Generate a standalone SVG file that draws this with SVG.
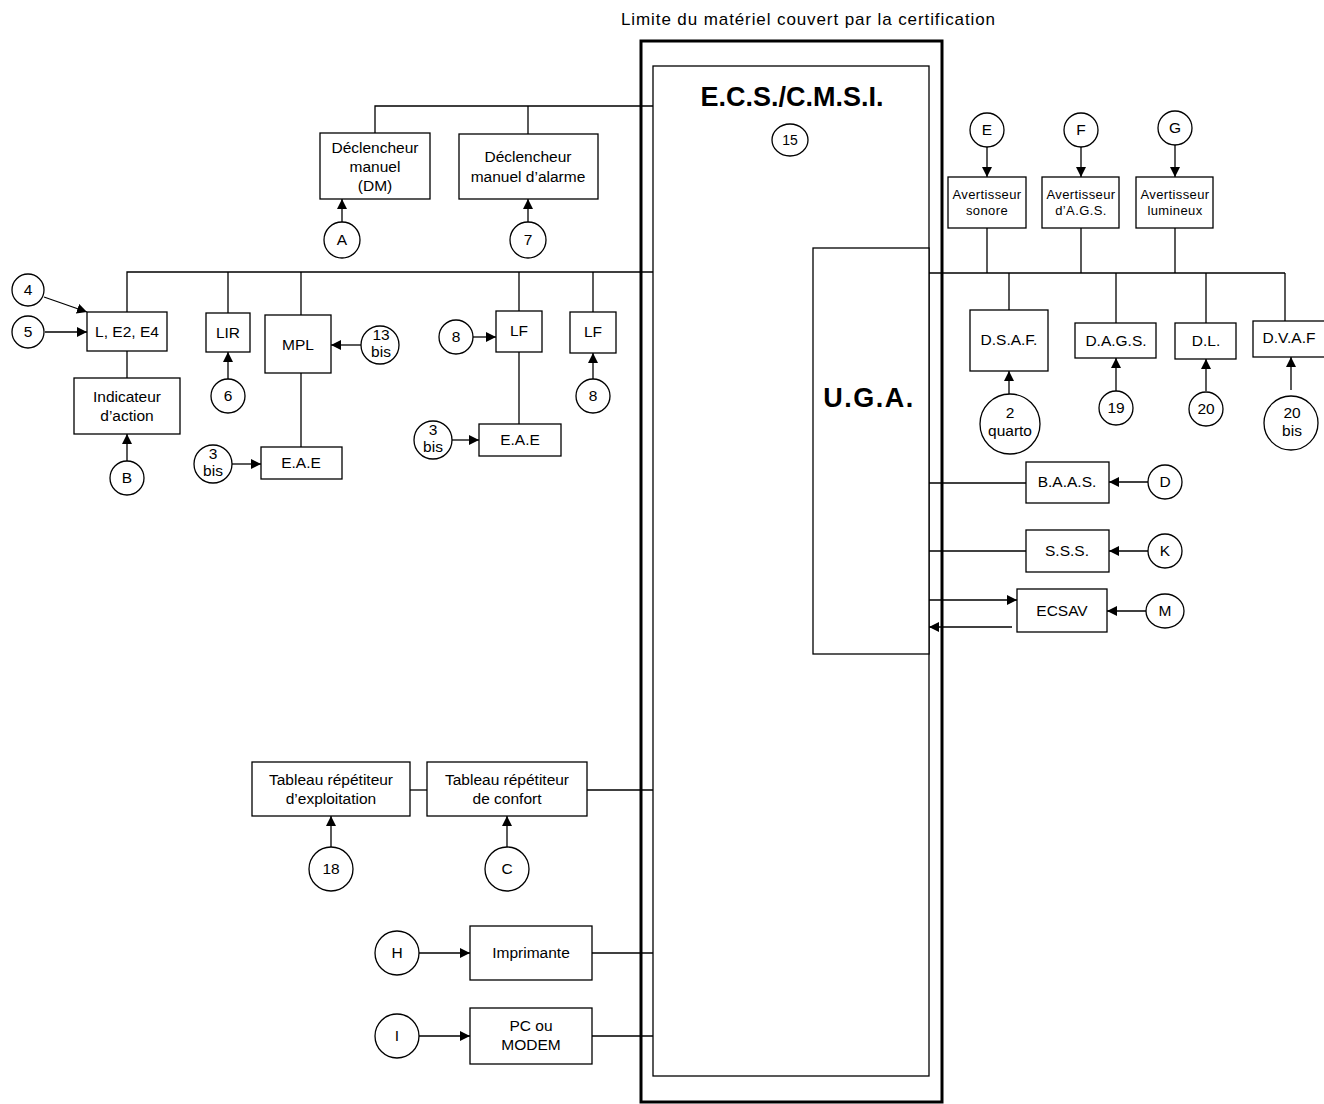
<svg xmlns="http://www.w3.org/2000/svg" width="1324" height="1104" viewBox="0 0 1324 1104">
<defs>
<marker id="ah" viewBox="0 0 10 10" refX="10" refY="5" markerWidth="10" markerHeight="10" markerUnits="userSpaceOnUse" orient="auto">
<path d="M0,0 L10,5 L0,10 z" fill="#000"/>
</marker>
<style>
rect,circle,ellipse{fill:#fff;stroke:#000;stroke-width:1.3}
line,polyline{stroke:#000;stroke-width:1.3;fill:none}
.a{marker-end:url(#ah)}
text{font-family:"Liberation Sans",Arial,sans-serif;font-size:15.5px;fill:#000;text-anchor:middle}
.s{font-size:13px;letter-spacing:0.4px}
.c{font-size:14px}
.b{font-weight:bold}
</style>
</defs>
<rect width="1324" height="1104" style="fill:#fff;stroke:none"/>
<text x="808" y="25" textLength="374" lengthAdjust="spacing" style="font-size:17px">Limite du matériel couvert par la certification</text>

<g id="connectors">
<polyline points="375,133 375,106 653,106"/>
<line x1="528" y1="106" x2="528" y2="134"/>
<line x1="342" y1="222" x2="342" y2="199" class="a"/>
<line x1="528" y1="222" x2="528" y2="199" class="a"/>
<polyline points="127,312 127,272 653,272"/>
<line x1="228" y1="272" x2="228" y2="313"/>
<line x1="301" y1="272" x2="301" y2="315"/>
<line x1="519" y1="272" x2="519" y2="311"/>
<line x1="593" y1="272" x2="593" y2="312"/>
<line x1="44" y1="297" x2="87" y2="312" class="a"/>
<line x1="45" y1="332" x2="87" y2="332" class="a"/>
<line x1="127" y1="351" x2="127" y2="378"/>
<line x1="127" y1="461" x2="127" y2="434" class="a"/>
<line x1="228" y1="379" x2="228" y2="352" class="a"/>
<line x1="361" y1="345" x2="331" y2="345" class="a"/>
<line x1="301" y1="373" x2="301" y2="447"/>
<line x1="232" y1="464" x2="261" y2="464" class="a"/>
<line x1="473" y1="337" x2="496" y2="337" class="a"/>
<line x1="519" y1="352" x2="519" y2="424"/>
<line x1="452" y1="440" x2="479" y2="440" class="a"/>
<line x1="593" y1="379" x2="593" y2="353" class="a"/>
<line x1="929" y1="273" x2="1285" y2="273"/>
<line x1="987" y1="147" x2="987" y2="177" class="a"/>
<line x1="1081" y1="147" x2="1081" y2="177" class="a"/>
<line x1="1175" y1="145" x2="1175" y2="177" class="a"/>
<line x1="987" y1="228" x2="987" y2="273"/>
<line x1="1081" y1="228" x2="1081" y2="273"/>
<line x1="1175" y1="228" x2="1175" y2="273"/>
<line x1="1009" y1="273" x2="1009" y2="310"/>
<line x1="1116" y1="273" x2="1116" y2="323"/>
<line x1="1206" y1="273" x2="1206" y2="323"/>
<line x1="1285" y1="273" x2="1285" y2="321"/>
<line x1="1009" y1="394" x2="1009" y2="371" class="a"/>
<line x1="1116" y1="391" x2="1116" y2="358" class="a"/>
<line x1="1206" y1="391" x2="1206" y2="359" class="a"/>
<line x1="1291" y1="390" x2="1291" y2="357" class="a"/>
<line x1="929" y1="483" x2="1026" y2="483"/>
<line x1="1148" y1="482" x2="1109" y2="482" class="a"/>
<line x1="929" y1="551" x2="1026" y2="551"/>
<line x1="1148" y1="551" x2="1109" y2="551" class="a"/>
<line x1="929" y1="600" x2="1017" y2="600" class="a"/>
<line x1="1012" y1="627" x2="929" y2="627" class="a"/>
<line x1="1146" y1="611" x2="1107" y2="611" class="a"/>
<line x1="410" y1="790" x2="427" y2="790"/>
<line x1="587" y1="790" x2="653" y2="790"/>
<line x1="331" y1="847" x2="331" y2="816" class="a"/>
<line x1="507" y1="847" x2="507" y2="816" class="a"/>
<line x1="419" y1="953" x2="470" y2="953" class="a"/>
<line x1="592" y1="953" x2="653" y2="953"/>
<line x1="419" y1="1036" x2="470" y2="1036" class="a"/>
<line x1="592" y1="1036" x2="653" y2="1036"/>
</g>

<g id="outer"><rect x="641" y="41" width="301" height="1061" style="fill:none;stroke-width:3"/></g>
<g id="ecs"><rect x="653" y="66" width="276" height="1010" style="fill:none"/>
<text x="792" y="106" class="b" style="font-size:27px">E.C.S./C.M.S.I.</text>
<ellipse cx="790" cy="140" rx="18" ry="16"/><text x="790" y="145" class="c">15</text></g>
<g id="uga"><rect x="813" y="248" width="116" height="406"/><text x="869" y="407" class="b" style="font-size:27px;letter-spacing:1.5px">U.G.A.</text></g>

<g id="dm"><rect x="320" y="133" width="110" height="66"/><text x="375" y="153">Déclencheur</text><text x="375" y="172">manuel</text><text x="375" y="191">(DM)</text></g>
<g id="dma"><rect x="459" y="134" width="139" height="65"/><text x="528" y="162">Déclencheur</text><text x="528" y="182">manuel d’alarme</text></g>
<g id="cA"><circle cx="342" cy="240" r="18"/><text x="342" y="245">A</text></g>
<g id="c7"><circle cx="528" cy="240" r="18"/><text x="528" y="245">7</text></g>

<g id="le2e4"><rect x="87" y="312" width="80" height="39"/><text x="127" y="337">L, E2, E4</text></g>
<g id="c4"><circle cx="28" cy="290" r="16"/><text x="28" y="295">4</text></g>
<g id="c5"><circle cx="28" cy="332" r="16"/><text x="28" y="337">5</text></g>
<g id="ind"><rect x="74" y="378" width="106" height="56"/><text x="127" y="402">Indicateur</text><text x="127" y="421">d’action</text></g>
<g id="cB"><circle cx="127" cy="478" r="17"/><text x="127" y="483">B</text></g>
<g id="lir"><rect x="206" y="313" width="44" height="39"/><text x="228" y="338">LIR</text></g>
<g id="c6"><circle cx="228" cy="396" r="17"/><text x="228" y="401">6</text></g>
<g id="mpl"><rect x="265" y="315" width="66" height="58"/><text x="298" y="350">MPL</text></g>
<g id="c13"><circle cx="380" cy="345" r="19"/><text x="381" y="340">13</text><text x="381" y="357">bis</text></g>
<g id="eae1"><rect x="261" y="447" width="81" height="32"/><text x="301" y="468">E.A.E</text></g>
<g id="c3a"><circle cx="213" cy="464" r="19"/><text x="213" y="459">3</text><text x="213" y="476">bis</text></g>
<g id="lf1"><rect x="496" y="311" width="46" height="41"/><text x="519" y="336">LF</text></g>
<g id="c8a"><circle cx="456" cy="337" r="17"/><text x="456" y="342">8</text></g>
<g id="eae2"><rect x="479" y="424" width="82" height="32"/><text x="520" y="445">E.A.E</text></g>
<g id="c3b"><circle cx="433" cy="440" r="19"/><text x="433" y="435">3</text><text x="433" y="452">bis</text></g>
<g id="lf2"><rect x="570" y="312" width="46" height="41"/><text x="593" y="337">LF</text></g>
<g id="c8b"><circle cx="593" cy="396" r="17"/><text x="593" y="401">8</text></g>

<g id="cE"><circle cx="987" cy="130" r="17"/><text x="987" y="135">E</text></g>
<g id="cF"><circle cx="1081" cy="130" r="17"/><text x="1081" y="135">F</text></g>
<g id="cG"><circle cx="1175" cy="128" r="17"/><text x="1175" y="133">G</text></g>
<g id="as"><rect x="948" y="177" width="78" height="51"/><text x="987" y="199" class="s">Avertisseur</text><text x="987" y="215" class="s">sonore</text></g>
<g id="aags"><rect x="1042" y="177" width="77" height="51"/><text x="1081" y="199" class="s">Avertisseur</text><text x="1081" y="215" class="s">d’A.G.S.</text></g>
<g id="al"><rect x="1136" y="177" width="77" height="51"/><text x="1175" y="199" class="s">Avertisseur</text><text x="1175" y="215" class="s">lumineux</text></g>
<g id="dsaf"><rect x="970" y="310" width="78" height="61"/><text x="1009" y="345">D.S.A.F.</text></g>
<g id="c2q"><ellipse cx="1010" cy="424" rx="30" ry="30"/><text x="1010" y="418">2</text><text x="1010" y="436">quarto</text></g>
<g id="dags"><rect x="1075" y="323" width="81" height="35"/><text x="1116" y="346">D.A.G.S.</text></g>
<g id="c19"><circle cx="1116" cy="408" r="17"/><text x="1116" y="413">19</text></g>
<g id="dl"><rect x="1175" y="323" width="61" height="36"/><text x="1206" y="346">D.L.</text></g>
<g id="c20"><circle cx="1206" cy="409" r="17"/><text x="1206" y="414">20</text></g>
<g id="dvaf"><rect x="1253" y="321" width="72" height="36"/><text x="1289" y="343">D.V.A.F</text></g>
<g id="c20b"><circle cx="1291" cy="423" r="27"/><text x="1292" y="418">20</text><text x="1292" y="436">bis</text></g>

<g id="baas"><rect x="1026" y="462" width="83" height="41"/><text x="1067" y="487">B.A.A.S.</text></g>
<g id="cD"><circle cx="1165" cy="482" r="17"/><text x="1165" y="487">D</text></g>
<g id="sss"><rect x="1026" y="530" width="83" height="42"/><text x="1067" y="556">S.S.S.</text></g>
<g id="cK"><circle cx="1165" cy="551" r="17"/><text x="1165" y="556">K</text></g>
<g id="ecsav"><rect x="1017" y="589" width="90" height="43"/><text x="1062" y="616">ECSAV</text></g>
<g id="cM"><ellipse cx="1165" cy="611" rx="19" ry="17"/><text x="1165" y="616">M</text></g>

<g id="tre"><rect x="252" y="762" width="158" height="54"/><text x="331" y="785">Tableau répétiteur</text><text x="331" y="804">d’exploitation</text></g>
<g id="trc"><rect x="427" y="762" width="160" height="54"/><text x="507" y="785">Tableau répétiteur</text><text x="507" y="804">de confort</text></g>
<g id="c18"><circle cx="331" cy="869" r="22"/><text x="331" y="874">18</text></g>
<g id="cC"><circle cx="507" cy="869" r="22"/><text x="507" y="874">C</text></g>
<g id="cH"><circle cx="397" cy="953" r="22"/><text x="397" y="958">H</text></g>
<g id="imp"><rect x="470" y="926" width="122" height="54"/><text x="531" y="958">Imprimante</text></g>
<g id="cI"><circle cx="397" cy="1036" r="22"/><text x="397" y="1041">I</text></g>
<g id="pc"><rect x="470" y="1008" width="122" height="56"/><text x="531" y="1031">PC ou</text><text x="531" y="1050">MODEM</text></g>
</svg>
